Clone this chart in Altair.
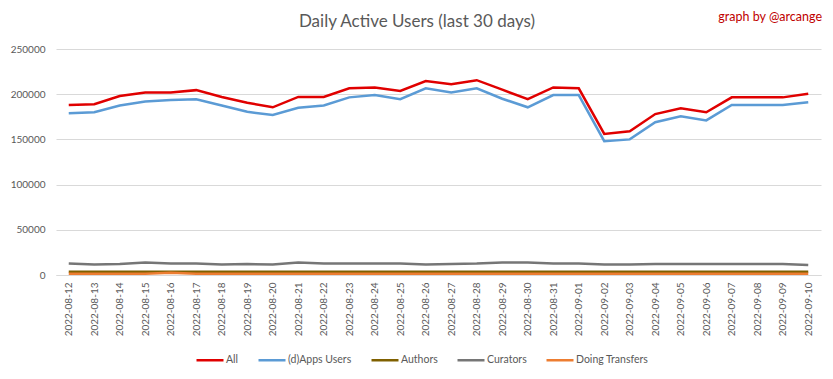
import altair as alt
import pandas as pd

dates = ["2022-08-12", "2022-08-13", "2022-08-14", "2022-08-15", "2022-08-16",
         "2022-08-17", "2022-08-18", "2022-08-19", "2022-08-20", "2022-08-21",
         "2022-08-22", "2022-08-23", "2022-08-24", "2022-08-25", "2022-08-26",
         "2022-08-27", "2022-08-28", "2022-08-29", "2022-08-30", "2022-08-31",
         "2022-09-01", "2022-09-02", "2022-09-03", "2022-09-04", "2022-09-05",
         "2022-09-06", "2022-09-07", "2022-09-08", "2022-09-09", "2022-09-10"]

all_users = [188000, 189000, 198000, 202000, 202000, 204500, 197000, 190500, 185500, 197000,
             197000, 206500, 207500, 203500, 214500, 211000, 215500, 205000, 194500, 207500,
             206500, 156000, 159000, 178000, 184500, 180000, 196500, 196500, 196500, 200500]
dapps_users = [179000, 180000, 187500, 192000, 193500, 194500, 187500, 180500, 177000, 185000,
               187500, 196500, 199000, 194500, 206500, 202000, 206500, 195000, 185500, 199000,
               199000, 148000, 150000, 169000, 175500, 171000, 188000, 188000, 188000, 191000]
authors = [3500, 3500, 3500, 3500, 3500, 3500, 3500, 3500, 3500, 3500,
           3500, 3500, 3500, 3500, 3500, 3500, 3500, 3500, 3500, 3500,
           3500, 3500, 3500, 3500, 3500, 3500, 3500, 3500, 3500, 3500]
curators = [12600, 11500, 12200, 13700, 12600, 12600, 11500, 12200, 11500, 13700,
            12600, 12600, 12600, 12600, 11500, 12200, 12600, 13700, 13700, 12600,
            12600, 11500, 11500, 12200, 12200, 12200, 12200, 12200, 12200, 11100]
transfers = [1500, 1500, 1500, 1500, 2500, 1500, 1500, 1500, 1500, 1500,
             1500, 1500, 1500, 1500, 1500, 1500, 1500, 1500, 1500, 1500,
             1500, 1500, 1500, 1500, 1500, 1500, 1500, 1500, 1500, 1500]

series_names = ["All", "(d)Apps Users", "Authors", "Curators", "Doing Transfers"]
series_values = [all_users, dapps_users, authors, curators, transfers]
series_colors = ["#E00000", "#5B9BD5", "#7F6000", "#767676", "#ED7D31"]
y_ticks = [0, 50000, 100000, 150000, 200000, 250000]

TITLE = "Daily Active Users (last 30 days)"
CREDIT = "graph by @arcange"
FONT = "Lato"
GREY = "#595959"

rows = []
for order, (name, vals) in enumerate(zip(series_names, series_values)):
    for d, v in zip(dates, vals):
        rows.append({"date": d, "value": v, "series": name, "order": order})
df = pd.DataFrame(rows)

lines = alt.Chart(df).mark_line(strokeWidth=2.5).encode(
    x=alt.X("date:O", sort=None,
            scale=alt.Scale(type="point", padding=0.5),
            axis=alt.Axis(title=None, labelAngle=270, ticks=False, domainColor="#D9D9D9",
                          labelPadding=7, labelFont=FONT, labelFontSize=10,
                          labelColor=GREY, grid=False)),
    y=alt.Y("value:Q",
            scale=alt.Scale(domain=[0, 250000], nice=False),
            axis=alt.Axis(title=None, values=y_ticks, format="d", grid=True,
                          gridColor="#D9D9D9", domain=False, ticks=False,
                          labelPadding=11, labelFont=FONT, labelFontSize=10,
                          labelColor=GREY)),
    color=alt.Color("series:N",
                    scale=alt.Scale(domain=series_names, range=series_colors),
                    legend=alt.Legend(title=None, orient="none", direction="horizontal",
                                      legendX=139, legendY=296,
                                      symbolType="stroke", symbolSize=729,
                                      symbolStrokeWidth=2.5, labelOffset=1,
                                      columnPadding=14, labelFont=FONT,
                                      labelFontSize=10.5, labelColor=GREY)),
    detail="series:N",
    order=alt.Order("order:Q"),
)

title_df = pd.DataFrame({"label": [TITLE]})
title_mark = alt.Chart(title_df).mark_text(
    font=FONT, fontSize=17, color=GREY, align="center", baseline="middle"
).encode(text="label:N", x=alt.value(361), y=alt.value(-27))

credit_df = pd.DataFrame({"label": [CREDIT]})
credit_mark = alt.Chart(credit_df).mark_text(
    font=FONT, fontSize=12.5, color="#C00000", align="right", baseline="middle"
).encode(text="label:N", x=alt.value(766), y=alt.value(-32))

chart = alt.layer(lines, title_mark, credit_mark).properties(
    width=765, height=226,
    autosize=alt.AutoSizeParams(type="none"),
    padding={"left": 48, "top": 41, "right": 4, "bottom": 96},
    background="white",
).configure_view(stroke=None)

chart.save("out.html", embed_options={"renderer": "svg", "actions": False})
